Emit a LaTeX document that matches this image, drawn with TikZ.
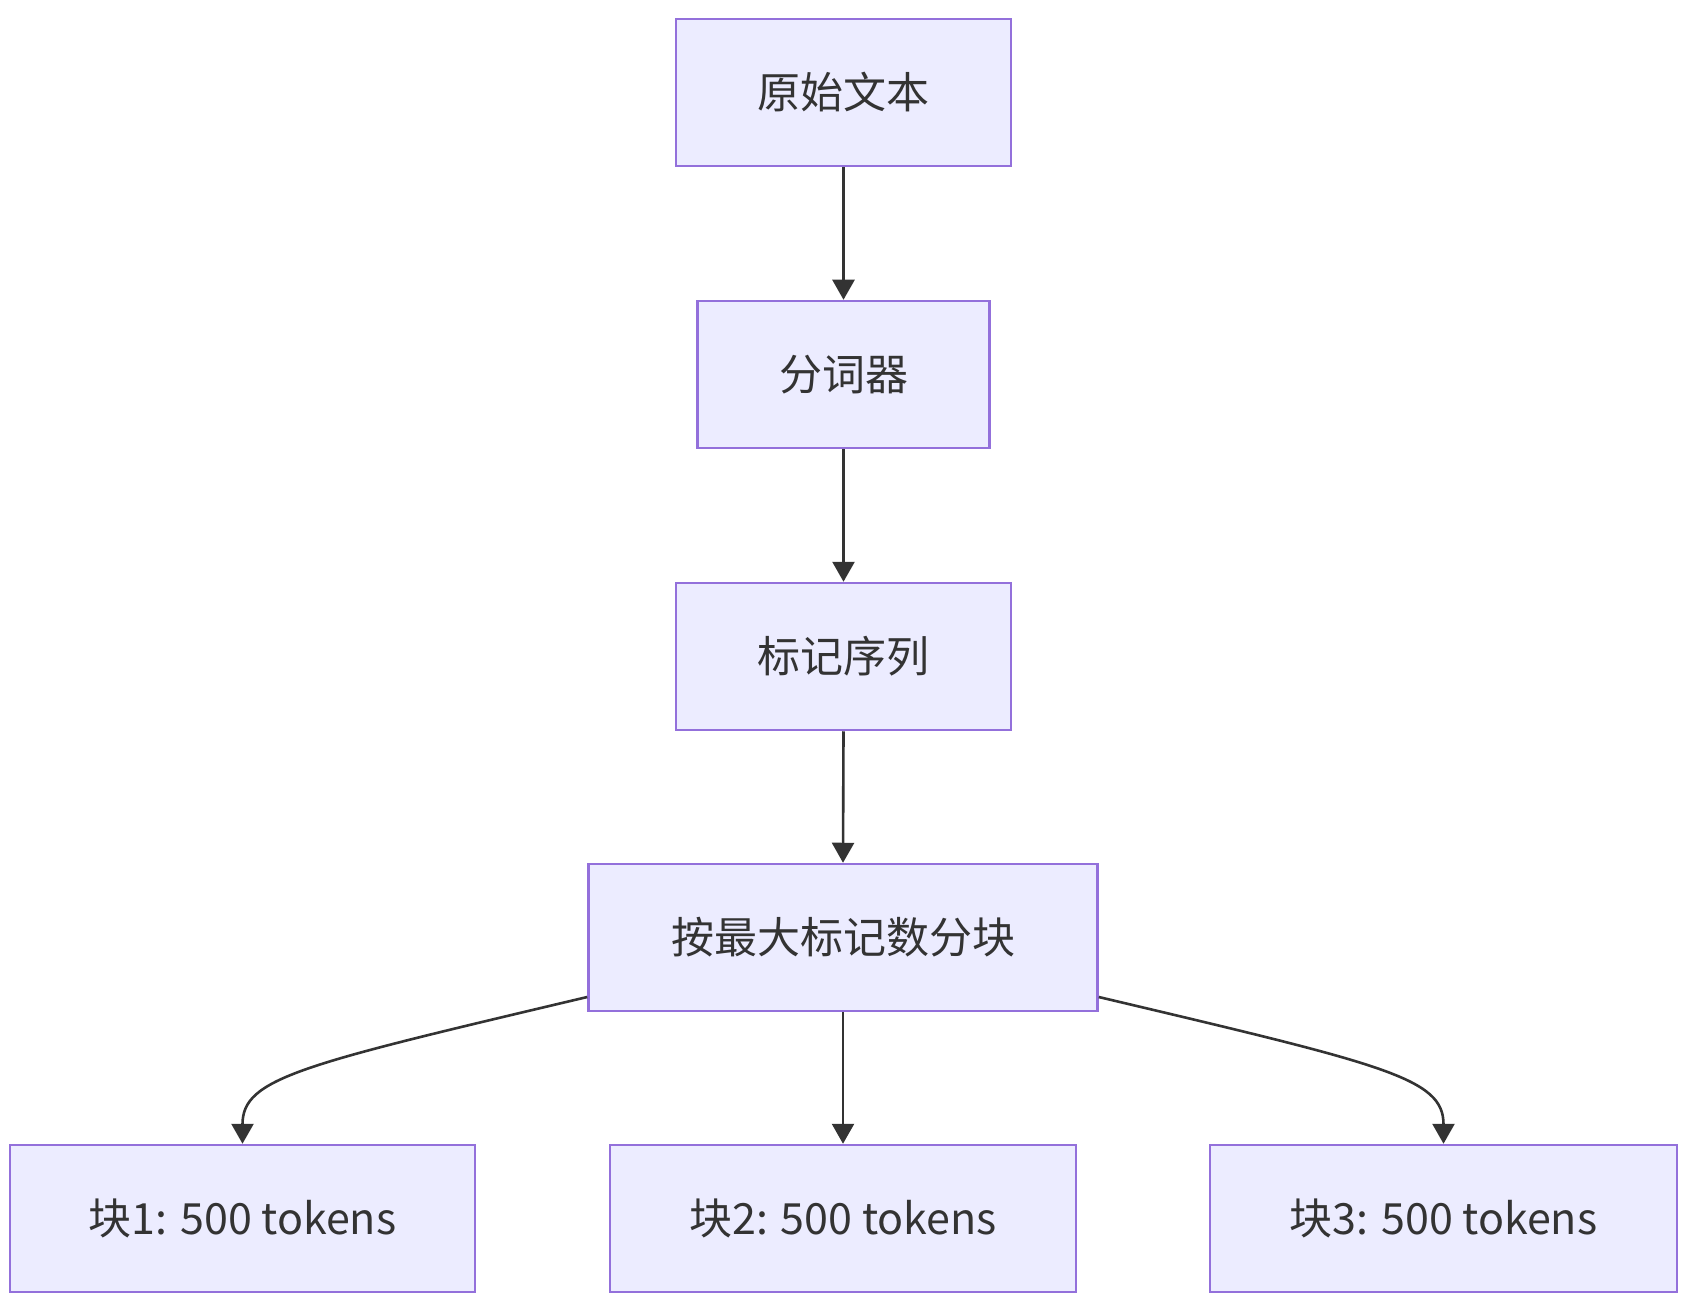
\documentclass[tikz,border=0pt]{standalone}
\usepackage{fontspec}
\setmainfont{Noto Sans CJK SC}
\usetikzlibrary{arrows.meta}
\definecolor{boxfill}{HTML}{ECECFF}
\definecolor{boxline}{HTML}{9370DB}
\definecolor{ink}{HTML}{333333}
\tikzset{
  box/.style={draw=boxline, fill=boxfill, line width=2.5pt, text=ink,
    font=\fontsize{43pt}{50pt}\selectfont, inner sep=0pt, minimum height=147pt},
  conn/.style={draw=ink, line width=2.6pt, -{Triangle[length=20pt,width=22pt]}}
}
\begin{document}
\begin{tikzpicture}[x=1pt,y=-1pt]
\useasboundingbox (0,0) rectangle (1690,1308);
\node[box, minimum width=335pt] (a) at (843.5,92.5) {原始文本};
\node[box, minimum width=292pt] (b) at (843.5,374.5) {分词器};
\node[box, minimum width=335pt] (c) at (843.5,656.5) {标记序列};
\node[box, minimum width=509pt] (d) at (843,937.5) {按最大标记数分块};
\node[box, minimum width=465pt] (e1) at (242.5,1218.5) {块1: 500 tokens};
\node[box, minimum width=466pt] (e2) at (843,1218.5) {块2: 500 tokens};
\node[box, minimum width=467pt] (e3) at (1443.5,1218.5) {块3: 500 tokens};
\draw[conn] (a.south) -- (b.north);
\draw[conn] (b.south) -- (c.north);
\draw[conn] (c.south) -- (d.north);
\draw[conn] (d.south) -- (e2.north);
\coordinate (dl) at ([yshift=-59.5pt]d.west);
\coordinate (dr) at ([yshift=-59.5pt]d.east);
\draw[conn] (dl) .. controls (300,1065) and (242.5,1078) .. (e1.north);
\draw[conn] (dr) .. controls (1386,1065) and (1443.5,1078) .. (e3.north);
\end{tikzpicture}
\end{document}
